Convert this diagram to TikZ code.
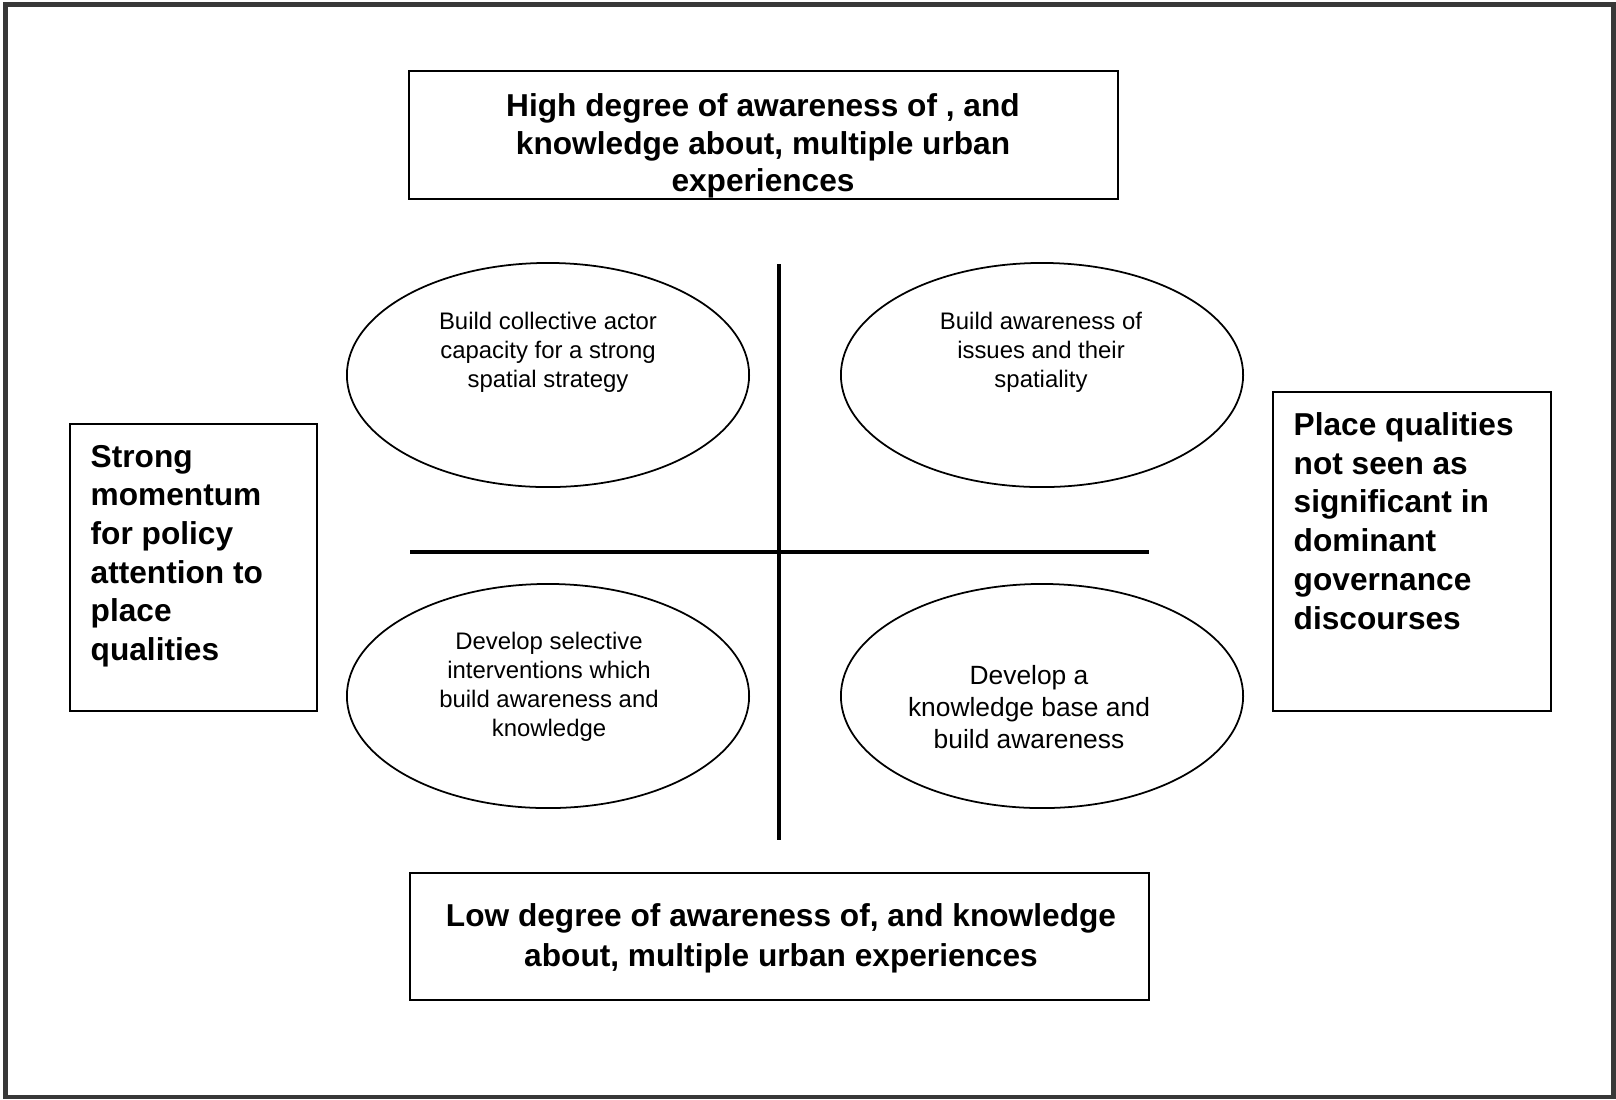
\documentclass[tikz,border=0pt]{standalone}
\usepackage{fontspec}
\setmainfont{Liberation Sans}
\usetikzlibrary{shapes.geometric}
\tikzset{
  box/.style={draw, line width=0.5pt, inner sep=0pt},
  quad/.style={draw, ellipse, line width=0.5pt, inner sep=0pt,
    minimum width=4.02cm, minimum height=2.24cm},
  heading/.style={font=\bfseries\fontsize{9}{10.6}\selectfont, inner sep=0pt},
  idea/.style={font=\fontsize{6.8}{8.2}\selectfont, align=center, inner sep=0pt},
}
\begin{document}
\begin{tikzpicture}[x=0.01cm,y=-0.01cm]
  \useasboundingbox (0,0) rectangle (1616,1099);
  \draw[line width=1.4pt, black!78] (5.5,4.5) rectangle (1613.5,1097);
  % outer boxes
  \node[box, minimum width=7.09cm, minimum height=1.28cm] (high) at (763.5,135) {};
  \node[box, minimum width=7.39cm, minimum height=1.27cm] (low) at (779.5,936.5) {};
  \node[box, minimum width=2.47cm, minimum height=2.87cm] (strong) at (193.5,567.5) {};
  \node[box, minimum width=2.78cm, minimum height=3.19cm] (weak) at (1412,551.5) {};
  \node[heading, align=center] (high-txt) at (763,146)
    {High degree of awareness of , and\\knowledge about, multiple urban\\experiences};
  \node[heading, align=center, font=\bfseries\fontsize{9}{11.4}\selectfont] (low-txt) at (781,938)
    {Low degree of awareness of, and knowledge\\about, multiple urban experiences};
  \node[heading, align=left, anchor=west, font=\bfseries\fontsize{9}{11}\selectfont] (strong-txt) at (90,556)
    {Strong\\momentum\\for policy\\attention to\\place\\qualities};
  \node[heading, align=left, anchor=west, font=\bfseries\fontsize{9}{11}\selectfont] (weak-txt) at (1293,521)
    {Place qualities\\not seen as\\significant in\\dominant\\governance\\discourses};
  % quadrants
  \coordinate (vtop) at (779,264);
  \coordinate (vbot) at (779,840);
  \coordinate (hleft) at (410,552);
  \coordinate (hright) at (1149,552);
  \begin{scope}[line width=1.15pt]
    \draw (vtop) -- (vbot);
    \draw (hleft) -- (hright);
  \end{scope}
  \node[quad] (tl) at (548,375) {};
  \node[quad] (tr) at (1042,375) {};
  \node[quad] (bl) at (548,696) {};
  \node[quad] (br) at (1042,696) {};
  \node[idea] (tl-txt) at (548,352)
    {Build collective actor\\capacity for a strong\\spatial strategy};
  \node[idea] (tr-txt) at (1041,352)
    {Build awareness of\\issues and their\\spatiality};
  \node[idea] (bl-txt) at (549,687)
    {Develop selective\\interventions which\\build awareness and\\knowledge};
  \node[idea, font=\fontsize{7.5}{9}\selectfont] (br-txt) at (1029,707)
    {Develop a\\knowledge base and\\build awareness};
\end{tikzpicture}
\end{document}
